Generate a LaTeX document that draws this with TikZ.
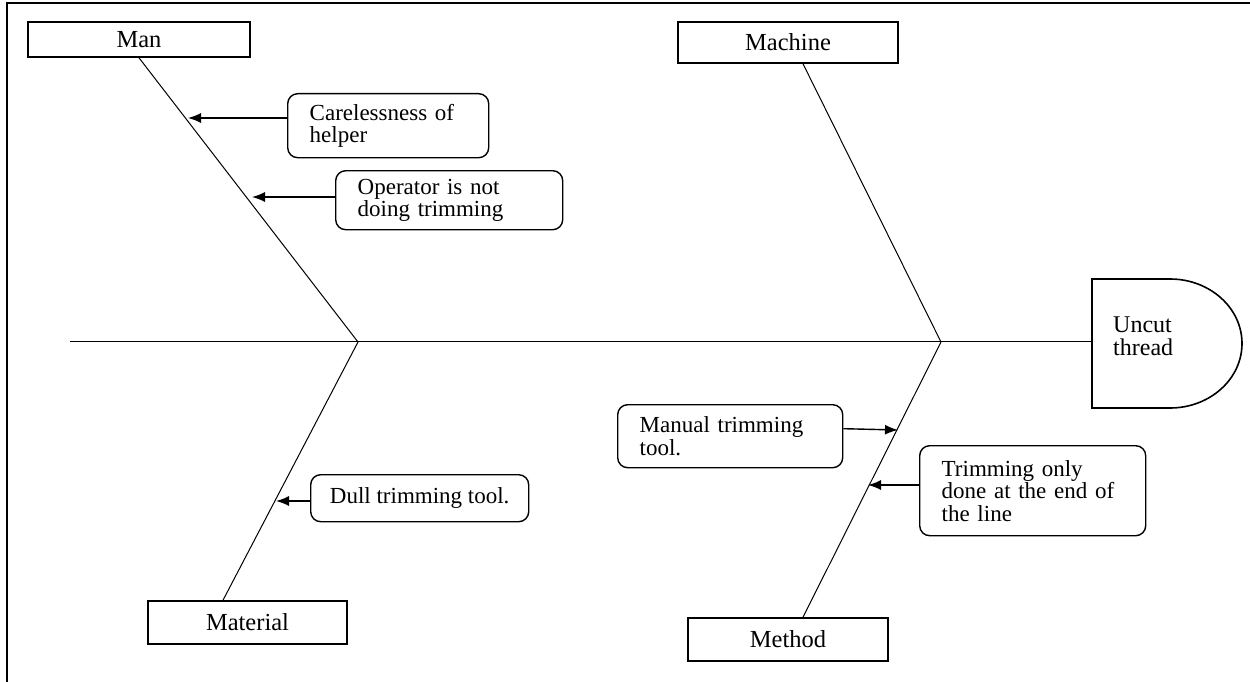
\documentclass[tikz,border=0pt]{standalone}
\usepackage{fontspec}
\setmainfont{Liberation Serif}
\usetikzlibrary{arrows.meta}

\tikzset{
    category/.style={draw, line width=1.6pt, inner sep=0pt,
        font=\fontsize{24.5}{24}\selectfont},
    cause/.style={draw, line width=1.4pt, rounded corners=10pt, anchor=north west,
        inner xsep=22pt, inner ysep=0pt, align=left,
        font=\fontsize{23}{22.5}\selectfont},
    bone/.style={line width=1pt},
    arr/.style={line width=1.4pt, -{Latex[length=13pt,width=10pt]}}
}

\begin{document}
\begin{tikzpicture}[x=1pt,y=-1pt]
        \useasboundingbox (0,0) rectangle (1250,682);

        % rámeček
        \draw[line width=1.6pt] (7,682) -- (7,3) -- (1250,3);

        % kategorie
        \node[category, minimum width=222pt, minimum height=35pt] (man) at (139,39.5) {Man};
        \node[category, minimum width=220pt, minimum height=41pt] (machine) at (788,42.5) {Machine};
        \node[category, minimum width=199pt, minimum height=43pt] (material) at (247.5,622.5) {Material};
        \node[category, minimum width=200pt, minimum height=43pt] (method) at (788,639.5) {Method};

        % hlava
        \draw[line width=1.6pt] (1170,408) -- (1092,408) -- (1092,279) -- (1170,279)
            arc[start angle=90, end angle=-90, x radius=72pt, y radius=64.5pt] -- cycle;
        \node[align=left, anchor=west, inner sep=0pt, font=\fontsize{24}{23}\selectfont]
            (uncut) at (1113,336.5) {Uncut\\thread};

        % páteř
        \coordinate (tail) at (70,341);
        \coordinate (head) at (1092,341);
        \coordinate (j1) at (358,342);
        \coordinate (j2) at (941,342);
        \draw[bone] (tail) -- (head);

        % kosti
        \draw[bone] (man.south) -- (j1);
        \draw[bone] ([xshift=-24.5pt]material.north) -- (j1);
        \draw[bone] ([xshift=15pt]machine.south) -- (j2);
        \draw[bone] ([xshift=15pt]method.north) -- (j2);

        % příčiny
        \node[cause, text width=157pt, minimum height=64pt] (careless) at (287,93) {Carelessness of\\helper};
        \node[cause, text width=183pt, minimum height=59pt] (operator) at (335,170) {Operator is not\\doing trimming};
        \node[cause, inner xsep=18pt, minimum width=218pt, minimum height=47pt] (dull) at (310,474) {Dull trimming tool.};
        \node[cause, text width=181pt, minimum height=63pt] (manual) at (617,404) {Manual trimming\\tool.};
        \node[cause, text width=182pt, minimum height=90pt] (trim) at (919,445) {Trimming only\\done at the end of\\the line};

        % šipky
        \coordinate (t1) at (188,118);
        \coordinate (t2) at (252,197);
        \coordinate (t3) at (276,501);
        \coordinate (t4) at (898,430);
        \coordinate (t5) at (868,485);
        \draw[arr] (careless.west |- t1) -- (t1);
        \draw[arr] (operator.west |- t2) -- (t2);
        \draw[arr] (dull.west |- t3) -- (t3);
        \draw[arr] ([yshift=7.5pt]manual.east) -- (t4);
        \draw[arr] (trim.west |- t5) -- (t5);
    \end{tikzpicture}
\end{document}
